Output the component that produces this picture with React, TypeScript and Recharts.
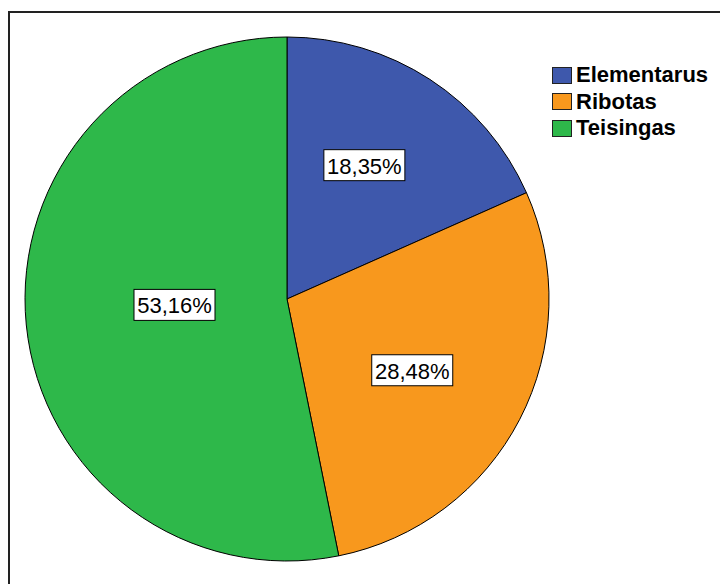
import React from 'react';
import { PieChart, Pie, Cell } from 'recharts';

const categories = ['Elementarus', 'Ribotas', 'Teisingas'];
const shares = [18.35, 28.48, 53.16];
const colors = ['#3e58ac', '#f8981d', '#2eb84a'];

const data = categories.map((name, i) => ({ name, value: shares[i] }));

// label box placement: fraction of radius and small angle nudge (degrees)
const labelDepth = [0.59, 0.55, 0.43];
const labelNudge = [3, -2.3, -2.7];

const RAD = Math.PI / 180;

const renderLabel = (props: any) => {
  const { cx, cy, midAngle, outerRadius, index, value } = props;
  const r = outerRadius * labelDepth[index];
  const a = midAngle + labelNudge[index];
  const x = cx + r * Math.cos(-a * RAD);
  const y = cy + r * Math.sin(-a * RAD);
  const text = `${value.toFixed(2).replace('.', ',')}%`;
  const w = 81;
  const h = 31;
  return (
    <g>
      <rect x={x - w / 2} y={y - h / 2} width={w} height={h} fill="#fff" stroke="#000" strokeWidth={1} />
      <text
        x={x}
        y={y + 1}
        textAnchor="middle"
        dominantBaseline="central"
        fontFamily="'Liberation Sans', Arial, sans-serif"
        fontSize={22}
        fill="#000"
      >
        {text}
      </text>
    </g>
  );
};

export default function App() {
  return (
    <div style={{ position: 'absolute', left: 0, top: 0, width: 720, height: 584, background: '#fff', overflow: 'hidden' }}>
      <div
        style={{
          position: 'absolute',
          left: 8,
          top: 11,
          width: 720,
          height: 600,
          borderLeft: '2px solid #222',
          borderTop: '2px solid #222',
        }}
      />
      <div style={{ position: 'absolute', left: 0, top: 0 }}>
        <PieChart width={720} height={584} margin={{ top: 0, right: 0, bottom: 0, left: 0 }}>
          <Pie
            data={data}
            dataKey="value"
            nameKey="name"
            cx={287}
            cy={299}
            outerRadius={262}
            startAngle={90}
            endAngle={-270}
            stroke="#000"
            strokeWidth={1}
            label={renderLabel}
            labelLine={false}
            isAnimationActive={false}
          >
            {data.map((d, i) => (
              <Cell key={d.name} fill={colors[i]} />
            ))}
          </Pie>
        </PieChart>
      </div>
      <div style={{ position: 'absolute', left: 552, top: 62 }}>
        {categories.map((name, i) => (
          <div key={name} style={{ display: 'flex', alignItems: 'center', height: 26.5 }}>
            <div
              style={{
                width: 18,
                height: 15,
                background: colors[i],
                border: '1px solid #222',
                marginRight: 4,
              }}
            />
            <span
              style={{
                fontFamily: "'Liberation Sans', Arial, sans-serif",
                fontWeight: 'bold',
                fontSize: 22,
                color: '#000',
                lineHeight: '26px',
              }}
            >
              {name}
            </span>
          </div>
        ))}
      </div>
    </div>
  );
}
